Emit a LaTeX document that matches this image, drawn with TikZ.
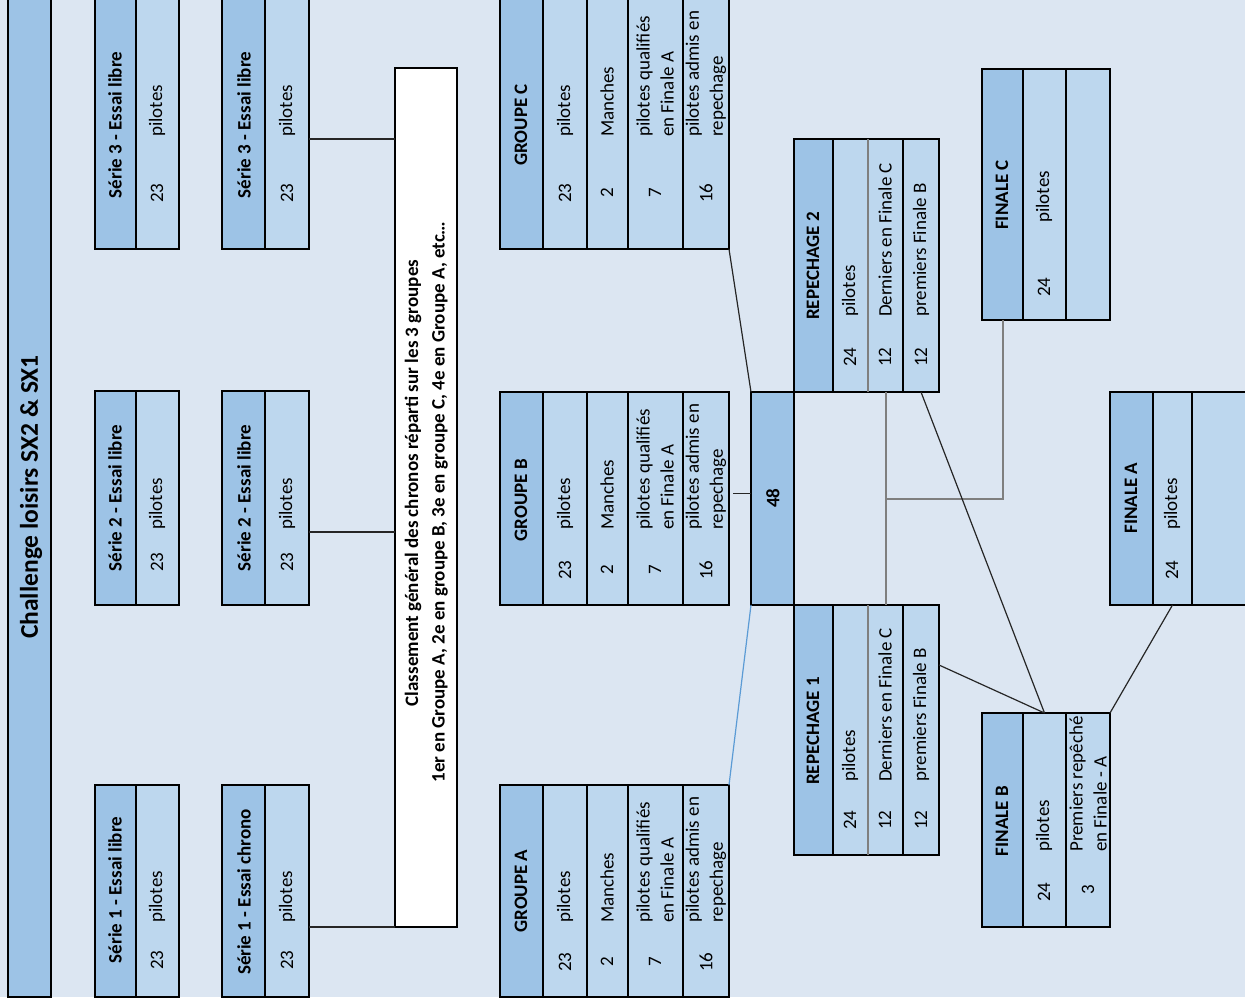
\documentclass[tikz,border=0pt]{standalone}
\usepackage{fontspec}
\setmainfont{Carlito}
\definecolor{bg}{HTML}{DCE6F2}
\definecolor{hdr}{HTML}{9DC3E6}
\definecolor{dat}{HTML}{BDD7EE}
\definecolor{lnk}{HTML}{5B9BD5}
\definecolor{gline}{HTML}{7F7F7F}
\newcommand\mycell[6]{%
  \pgfmathsetmacro\mycw{#4-#2}%
  \pgfmathsetmacro\mych{#5-#3}%
  \node[#6,minimum width=\mycw pt,minimum height=\mych pt] (#1) at ({(#2+#4)/2},{(#3+#5)/2}) {};}
\begin{document}
\begin{tikzpicture}[x=1pt,y=-1pt,
  hcell/.style={draw=black,line width=1.5pt,fill=hdr,inner sep=0pt,outer sep=0pt},
  dcell/.style={draw=black,line width=1.5pt,fill=dat,inner sep=0pt,outer sep=0pt},
  wcell/.style={draw=black,line width=1.5pt,fill=white,inner sep=0pt,outer sep=0pt},
  lab/.style={rotate=90,inner sep=0pt,font=\fontsize{19}{24}\selectfont},
  blab/.style={rotate=90,inner sep=0pt,font=\fontsize{19}{24}\selectfont\bfseries},
  tlab/.style={lab,anchor=west,align=left},
  conn/.style={line width=1.2pt,draw=black!85},
  gconn/.style={line width=2pt,draw=gline}]
\useasboundingbox (0,0) rectangle (1245,1005);
\clip (0,0) rectangle (1245,1005);
\fill[white] (0,0) rectangle (1245,1005);
\fill[bg] (0,0) rectangle (1245,997);

% title bar
\mycell{tbar}{8}{-5}{51}{997}{hcell}
\node[rotate=90,inner sep=0pt,font=\fontsize{25.5}{30}\selectfont\bfseries] (title) at (31,497) {Challenge loisirs SX2 \& SX1};

% series, column 1
\mycell{s3Lh}{95}{-5}{136}{249}{hcell}\mycell{s3Ld}{136}{-5}{179}{249}{dcell}
\mycell{s2Lh}{95}{391}{136}{605}{hcell}\mycell{s2Ld}{136}{391}{179}{605}{dcell}
\mycell{s1Lh}{95}{785}{136}{997}{hcell}\mycell{s1Ld}{136}{785}{179}{997}{dcell}
% series, column 2
\mycell{s3Rh}{222}{-5}{265}{249}{hcell}\mycell{s3Rd}{265}{-5}{309}{249}{dcell}
\mycell{s2Rh}{222}{391}{265}{605}{hcell}\mycell{s2Rd}{265}{391}{309}{605}{dcell}
\mycell{s1Rh}{222}{785}{265}{997}{hcell}\mycell{s1Rd}{265}{785}{309}{997}{dcell}

\node[blab] (s3Lt) at (115,125) {Série 3 - Essai libre};
\node[lab] (s3Ln) at (157,193) {23};
\node[tlab] (s3Lp) at (157,137) {pilotes};
\node[blab] (s2Lt) at (115,498) {Série 2 - Essai libre};
\node[lab] (s2Ln) at (157,562) {23};
\node[tlab] (s2Lp) at (157,530) {pilotes};
\node[blab] (s1Lt) at (115,890) {Série 1 - Essai libre};
\node[lab] (s1Ln) at (157,960) {23};
\node[tlab] (s1Lp) at (157,923) {pilotes};

\node[blab] (s3Rt) at (244,125) {Série 3 - Essai libre};
\node[lab] (s3Rn) at (287,193) {23};
\node[tlab] (s3Rp) at (287,137) {pilotes};
\node[blab] (s2Rt) at (244,498) {Série 2 - Essai libre};
\node[lab] (s2Rn) at (287,562) {23};
\node[tlab] (s2Rp) at (287,530) {pilotes};
\node[blab] (s1Rt) at (244,892) {Série 1 - Essai chrono};
\node[lab] (s1Rn) at (287,960) {23};
\node[tlab] (s1Rp) at (287,923) {pilotes};

% classement
\mycell{cls}{395}{68}{457}{927}{wcell}
\node[blab] (cls1) at (413,483) {Classement général des chronos réparti sur les 3 groupes};
\node[blab] (cls2) at (440,502) {1er en Groupe A, 2e en groupe B, 3e en groupe C, 4e en Groupe A, etc…};

% groups
\foreach \g/\ya/\yb/\hy/\ny/\ty in {C/-5/249/125/193/137, B/392/605/500/570/530, A/785/997/891/962/923}{
  \mycell{g\g h}{500}{\ya}{543}{\yb}{hcell}
  \mycell{g\g 1}{543}{\ya}{587}{\yb}{dcell}
  \mycell{g\g 2}{587}{\ya}{628}{\yb}{dcell}
  \mycell{g\g 3}{628}{\ya}{683}{\yb}{dcell}
  \mycell{g\g 4}{683}{\ya}{729}{\yb}{dcell}
  \node[blab] (g\g t) at (521,\hy) {GROUPE \g};
  \node[lab] (g\g n1) at (565,\ny) {23};
  \node[tlab] (g\g p1) at (565,\ty) {pilotes};
  \node[lab] (g\g n2) at (607,\ny) {2};
  \node[tlab] (g\g p2) at (607,\ty) {Manches};
  \node[lab] (g\g n3) at (655,\ny) {7};
  \node[tlab] (g\g p3) at (655,\ty) {pilotes qualifiés\\en Finale A};
  \node[lab] (g\g n4) at (706,\ny) {16};
  \node[tlab] (g\g p4) at (706,\ty) {pilotes admis en\\repechage};
}

% 48
\mycell{b48}{751}{392}{794}{605}{hcell}
\node[blab] (t48) at (773,498) {48};

% repechages
\foreach \r/\ya/\yb/\hy/\ny/\ty in {2/139/392/266/357/317, 1/605/855/731/820/782}{
  \mycell{r\r h}{794}{\ya}{833}{\yb}{hcell}
  \mycell{r\r p}{833}{\ya}{868}{\yb}{dcell}
  \mycell{r\r d}{868}{\ya}{903}{\yb}{dcell}
  \mycell{r\r f}{903}{\ya}{939}{\yb}{dcell}
  \draw[gline,line width=1.5pt] (r\r p.north east) -- (r\r p.south east);
  \node[blab] (r\r t) at (813,\hy) {REPECHAGE \r};
  \node[lab] (r\r n1) at (850,\ny) {24};
  \node[tlab] (r\r t1) at (850,\ty) {pilotes};
  \node[lab] (r\r n2) at (885,\ny) {12};
  \node[tlab] (r\r t2) at (885,\ty) {Derniers en Finale C};
  \node[lab] (r\r n3) at (921,\ny) {12};
  \node[tlab] (r\r t3) at (921,\ty) {premiers Finale B};
}

% finale C
\mycell{fcH}{982}{69}{1023}{320}{hcell}
\mycell{fcP}{1023}{69}{1066}{320}{dcell}
\mycell{fcE}{1066}{69}{1110}{320}{dcell}
\node[blab] (fct) at (1002,195) {FINALE C};
\node[lab] (fcn) at (1044,287) {24};
\node[tlab] (fcp) at (1044,223) {pilotes};

% finale B
\mycell{fbH}{982}{713}{1023}{927}{hcell}
\mycell{fbP}{1023}{713}{1066}{927}{dcell}
\mycell{fbE}{1066}{713}{1110}{927}{dcell}
\node[blab] (fbt) at (1002,821) {FINALE B};
\node[lab] (fbn) at (1044,892) {24};
\node[tlab] (fbp) at (1044,852) {pilotes};
\node[lab] (fbn2) at (1088,890) {3};
\node[tlab] (fbp2) at (1088,852) {Premiers repêché\\en Finale - A};

% finale A
\mycell{faH}{1110}{392}{1153}{605}{hcell}
\mycell{faP}{1153}{392}{1192}{605}{dcell}
\mycell{faE}{1192}{392}{1262}{605}{dcell}
\node[blab] (fat) at (1131,498) {FINALE A};
\node[lab] (fan) at (1172,570) {24};
\node[tlab] (fap) at (1172,530) {pilotes};

% connectors
\coordinate (c3) at ([yshift=-17pt]s3Rd.east);
\coordinate (c2) at ([yshift=-34pt]s2Rd.east);
\coordinate (c1) at ([yshift=-36pt]s1Rd.east);
\draw[conn] (c3) -- (c3 -| cls.west);
\draw[conn] (c2) -- (c2 -| cls.west);
\draw[conn] (c1) -- (c1 -| cls.west);
\draw[conn] (gC4.south east) -- (b48.north west);
\coordinate (cb) at ([xshift=4pt,yshift=5pt]gB4.east);
\draw[conn] (cb) -- (cb -| b48.west);
\draw[lnk,line width=1.2pt] (gA4.north east) -- (b48.south west);
\draw[gconn] (r2d.south) -- (r1d.north);
\coordinate (jn) at (r2d.south |- b48.center);
\draw[gconn] (fcH.south) |- (jn);
\draw[conn] (r2f.south) -- (fbP.north);
\coordinate (r1o) at ([yshift=65pt]r1f.east);
\draw[conn] (r1o) -- (fbP.north);
\draw[conn] (faP.south) -- (fbE.north east);
\end{tikzpicture}
\end{document}
